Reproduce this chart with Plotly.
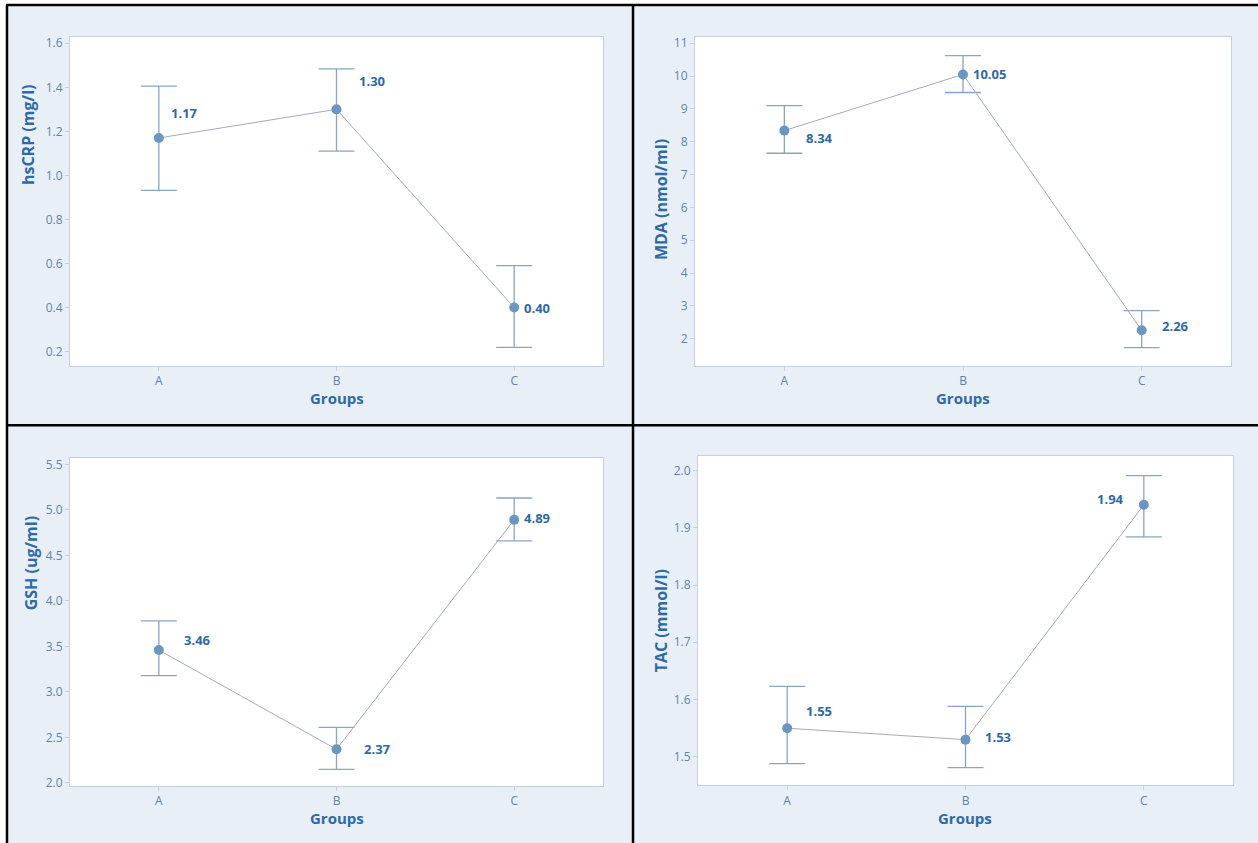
import plotly.graph_objects as go

# ---------------- data ----------------
groups = ["A", "B", "C"]

hscrp_mean = [1.17, 1.30, 0.40]
hscrp_upper = [1.405, 1.484, 0.590]
hscrp_lower = [0.932, 1.110, 0.219]

mda_mean = [8.34, 10.05, 2.26]
mda_upper = [9.10, 10.62, 2.86]
mda_lower = [7.65, 9.50, 1.73]

gsh_mean = [3.46, 2.37, 4.89]
gsh_upper = [3.78, 2.61, 5.13]
gsh_lower = [3.18, 2.15, 4.66]

tac_mean = [1.55, 1.53, 1.94]
tac_upper = [1.623, 1.588, 1.991]
tac_lower = [1.488, 1.481, 1.884]

y_titles = ["hsCRP (mg/l)", "MDA (nmol/ml)", "GSH (ug/ml)", "TAC (mmol/l)"]
x_title = "Groups"

# ---------------- styling / layout ----------------
W, H = 1258, 851
Y_OFF, Y_SCALE = 3.0, 0.99   # compensation for vertical capture squeeze
FONT = "Open Sans"
BG = "#e9eff6"
BORDER = "#c3d1e2"
TICK_C = "#5d83ad"
TITLE_C = "#2c6aa8"
MARK_C = "#6b96c4"
ERR_C = "#87a5c8"
LINE_C = "#a3abb8"
LABEL_C = "#2e69a6"

def px_x(x):
    return x / W

def px_y(y):
    page_y = (y - Y_OFF) / Y_SCALE
    return 1 - page_y / H

def sh(d):
    return d / Y_SCALE

# plot areas in reference pixels (x0, x1, ytop, ybottom)
areas = [
    (70, 603, 37.3, 365.5),
    (695, 1231, 37.3, 365.5),
    (70, 603, 457.3, 785.5),
    (698, 1233, 455.3, 785.0),
]
yranges = [
    [0.136, 1.627],
    [1.18, 11.18],
    [1.967, 5.574],
    [1.450, 2.026],
]
ydticks = [0.2, 1, 0.5, 0.1]
ytickfmt = [".1f", "d", ".1f", ".1f"]

# label offsets (pixels) relative to points: (dx, dy, anchor)
label_offsets = [
    [(10, 25, "left"), (20, 28, "left"), (8, 0, "left")],
    [(20, -7, "left"), (8, 0, "left"), (18, 4, "left")],
    [(23, 10, "left"), (25, 0, "left"), (8, 2, "left")],
    [(17, 17, "left"), (18, 3, "left"), (-18, 6, "right")],
]
ytitle_pos = [(28, 134), (661, 200), (31, 563), (661, 621)]
xtitle_pos = [(337, 398), (963, 398), (337, 818), (965, 818)]

series = [
    (hscrp_mean, hscrp_upper, hscrp_lower),
    (mda_mean, mda_upper, mda_lower),
    (gsh_mean, gsh_upper, gsh_lower),
    (tac_mean, tac_upper, tac_lower),
]

fig = go.Figure()
layout_axes = {}
annotations = []

for i, ((mean, up, lo), (x0, x1, yt, yb)) in enumerate(zip(series, areas)):
    n = "" if i == 0 else str(i + 1)
    xa, ya = "x" + n, "y" + n
    fig.add_trace(go.Scatter(
        x=groups, y=mean, xaxis=xa, yaxis=ya,
        mode="lines+markers",
        line=dict(color=LINE_C, width=1),
        marker=dict(color=MARK_C, size=10),
        error_y=dict(
            type="data", symmetric=False,
            array=[u - m for u, m in zip(up, mean)],
            arrayminus=[m - l for m, l in zip(mean, lo)],
            color=ERR_C, thickness=1.3, width=18,
        ),
        showlegend=False, hoverinfo="skip",
    ))
    common = dict(
        showline=True, linecolor=BORDER, linewidth=1, mirror=True,
        ticks="outside", ticklen=4, tickcolor=BORDER,
        tickfont=dict(family=FONT, size=12, color=TICK_C),
        showgrid=False, zeroline=False, fixedrange=True,
    )
    layout_axes["xaxis" + n] = dict(
        domain=[px_x(x0), px_x(x1)], anchor=ya,
        type="category", range=[-0.5, 2.5], **common,
    )
    layout_axes["yaxis" + n] = dict(
        domain=[px_y(yb), px_y(yt)], anchor=xa,
        range=yranges[i], dtick=ydticks[i], tick0=0,
        tickformat=ytickfmt[i], **common,
    )
    # data labels
    for g, m, (dx, dy, anc) in zip(groups, mean, label_offsets[i]):
        annotations.append(dict(
            x=g, y=m, xref=xa, yref=ya, text=f"{m:.2f}",
            showarrow=False, xanchor=anc, yanchor="middle",
            xshift=dx, yshift=sh(dy),
            font=dict(family=FONT, size=13, color=LABEL_C, weight="bold"),
        ))
    # axis titles
    tx, ty = ytitle_pos[i]
    annotations.append(dict(
        x=px_x(tx), y=px_y(ty), xref="paper", yref="paper",
        text=y_titles[i], textangle=-90, showarrow=False,
        xanchor="center", yanchor="middle",
        font=dict(family=FONT, size=16, color=TITLE_C, weight="bold"),
    ))
    gx, gy = xtitle_pos[i]
    annotations.append(dict(
        x=px_x(gx), y=px_y(gy), xref="paper", yref="paper",
        text=x_title, showarrow=False,
        xanchor="center", yanchor="middle",
        font=dict(family=FONT, size=15, color=TITLE_C, weight="bold"),
    ))

shapes = [
    # panel background
    dict(type="rect", xref="paper", yref="paper", x0=px_x(7), x1=1, y0=0, y1=px_y(5),
         fillcolor=BG, line=dict(width=0), layer="below"),
]
# white plot areas
for (x0, x1, yt, yb) in areas:
    shapes.append(dict(type="rect", xref="paper", yref="paper",
                       x0=px_x(x0), x1=px_x(x1), y0=px_y(yb), y1=px_y(yt),
                       fillcolor="white", line=dict(width=0), layer="below"))
# black frame lines
blk = dict(color="black", width=2.5)
shapes += [
    dict(type="line", xref="paper", yref="paper", x0=px_x(6), x1=1, y0=px_y(5), y1=px_y(5), line=blk),
    dict(type="line", xref="paper", yref="paper", x0=px_x(7), x1=px_x(7), y0=0, y1=px_y(5), line=blk),
    dict(type="line", xref="paper", yref="paper", x0=px_x(633), x1=px_x(633), y0=0, y1=px_y(5), line=blk),
    dict(type="line", xref="paper", yref="paper", x0=px_x(6), x1=1, y0=px_y(425), y1=px_y(425), line=blk),
]

fig.update_layout(
    width=W, height=H,
    margin=dict(l=0, r=0, t=0, b=0),
    paper_bgcolor="white", plot_bgcolor="rgba(0,0,0,0)",
    annotations=annotations, shapes=shapes,
    **layout_axes,
)

fig.write_html(
    "out.html",
    config={"displayModeBar": False},
    post_script=(
        "document.body.style.margin='0';"
        "document.body.style.overflow='hidden';"
        "document.documentElement.style.overflow='hidden';"
    ),
)
